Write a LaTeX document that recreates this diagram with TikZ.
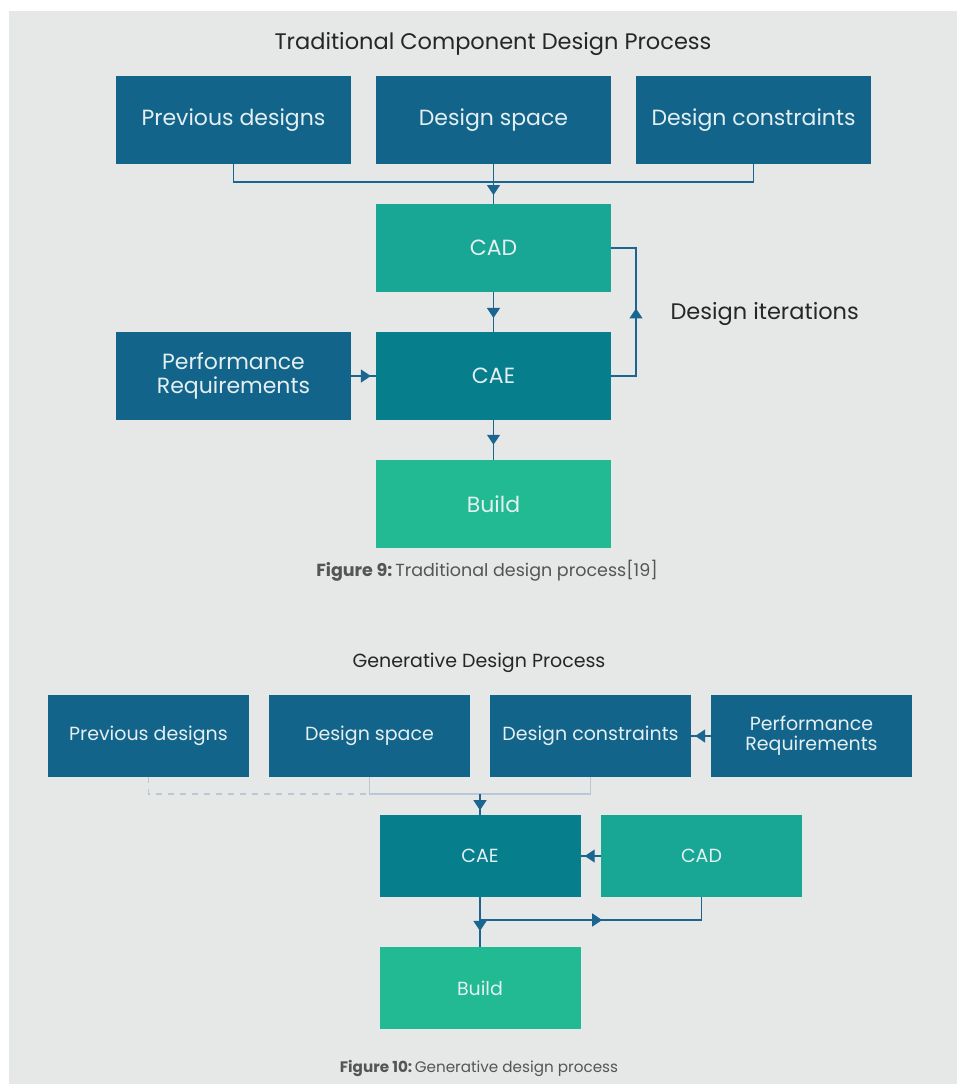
\documentclass[tikz,border=0pt]{standalone}
\usepackage{fontspec}
\setmainfont{Poppins}
\usepackage{tikz}
\usetikzlibrary{arrows.meta,positioning,calc,decorations.markings}

\definecolor{bgGray}{HTML}{E6E7E7}
\definecolor{boxBlue}{HTML}{13648A}
\definecolor{cadTeal}{HTML}{17A794}
\definecolor{caeTeal}{HTML}{067E8C}
\definecolor{buildGreen}{HTML}{21BA93}
\definecolor{lineBlue}{HTML}{1B6690}
\definecolor{lineLight}{HTML}{B9C8D6}
\definecolor{boxText}{HTML}{E4EFF2}
\definecolor{capGray}{HTML}{555555}

\tikzset{
    box/.style={inner sep=0pt, align=center, text=boxText},
    bigbox/.style={box, minimum width=235pt, minimum height=88pt,
                   font=\fontsize{22}{26}\selectfont},
    smallbox/.style={box, minimum width=201pt, minimum height=82pt,
                     font=\fontsize{19}{22}\selectfont},
    conn/.style={draw=lineBlue, line width=1.3pt},
    lightconn/.style={draw=lineLight, line width=1.3pt},
    midarrow/.style={postaction={decorate, decoration={markings,
        mark=at position #1 with {\arrow[lineBlue]{Triangle[width=13pt,length=10pt]}}}}},
    title/.style={font=\fontsize{22.5}{26}\selectfont, text=black!85},
    caption/.style={text=capGray},
}

\begin{document}
\begin{tikzpicture}[x=1pt, y=-1pt]
    \useasboundingbox (0,0) rectangle (957,1084);
    \fill[white] (0,0) rectangle (957,1084);
    \fill[bgGray] (9,11) rectangle (957,1084);

    % Traditional process ----------------------------------------------
    \node[title] (tTitle) at (493,44) {Traditional Component Design Process};
    \node[bigbox, fill=boxBlue] (tPrev)  at (233.5,120) {Previous designs};
    \node[bigbox, fill=boxBlue] (tSpace) at (493.5,120) {Design space};
    \node[bigbox, fill=boxBlue] (tCons)  at (753.5,120) {Design constraints};
    \node[bigbox, fill=cadTeal] (tCad)   at (493.5,248) {CAD};
    \node[bigbox, fill=caeTeal] (tCae)   at (493.5,376) {CAE};
    \node[bigbox, fill=boxBlue] (tPerf)  at (233.5,376) {Performance\\[-2pt]Requirements};
    \node[bigbox, fill=buildGreen] (tBuild) at (493.5,504) {Build};
    \node[title, anchor=west] (tIter) at (667,314) {Design iterations};
    \node[caption, font=\fontsize{17.5}{20}\selectfont] (tCap) at (487,571)
        {\textbf{Figure 9:}\,Traditional design process[19]};

    \coordinate (tJoin) at (493.5,182);
    \coordinate (tLoop) at (636,0);
    \draw[conn] (tPrev.south) |- (tJoin) -| (tCons.south);
    \draw[conn, midarrow=0.78] (tSpace.south) -- (tCad.north);
    \draw[conn, midarrow=0.65] (tCad.south) -- (tCae.north);
    \draw[conn, midarrow=0.8] (tPerf.east) -- (tCae.west);
    \draw[conn, midarrow=0.62] (tCae.south) -- (tBuild.north);
    \draw[conn, midarrow=0.52] (tCae.east) -- (tCae.east -| tLoop)
        -- (tCad.east -| tLoop) -- (tCad.east);

    % Generative process -----------------------------------------------
    \node[title, font=\fontsize{19}{22}\selectfont] (gTitle) at (479,663) {Generative Design Process};
    \node[smallbox, fill=boxBlue] (gPrev)  at (148.5,736) {Previous designs};
    \node[smallbox, fill=boxBlue] (gSpace) at (369.5,736) {Design space};
    \node[smallbox, fill=boxBlue] (gCons)  at (590.5,736) {Design constraints};
    \node[smallbox, fill=boxBlue] (gPerf)  at (811.5,736) {Performance\\[-2pt]Requirements};
    \node[smallbox, fill=caeTeal] (gCae)   at (480,856) {CAE};
    \node[smallbox, fill=cadTeal] (gCad)   at (701.5,856) {CAD};
    \node[smallbox, fill=buildGreen] (gBuild) at (480,988) {Build};
    \node[caption, font=\fontsize{15.2}{18}\selectfont] (gCap) at (479,1068)
        {\textbf{Figure 10:}\,Generative design process};

    \coordinate (gJoin) at (480,794);
    \coordinate (gLoop) at (0,920);
    \draw[lightconn, dashed, dash pattern=on 6pt off 6pt] (gPrev.south) |- (gJoin -| gSpace.south);
    \draw[lightconn] (gSpace.south) |- (gJoin) -| (gCons.south);
    \draw[conn, midarrow=0.78] (gJoin) -- (gCae.north);
    \draw[conn, midarrow=0.8] (gPerf.west) -- (gCons.east);
    \draw[conn, midarrow=0.8] (gCad.west) -- (gCae.west -| gCae.east);
    \draw[conn, midarrow=0.68] (gCae.south) -- (gBuild.north);
    \draw[conn, midarrow=0.5] (gCae.south |- gLoop) -- (gCad.south |- gLoop) -- (gCad.south);
\end{tikzpicture}
\end{document}
